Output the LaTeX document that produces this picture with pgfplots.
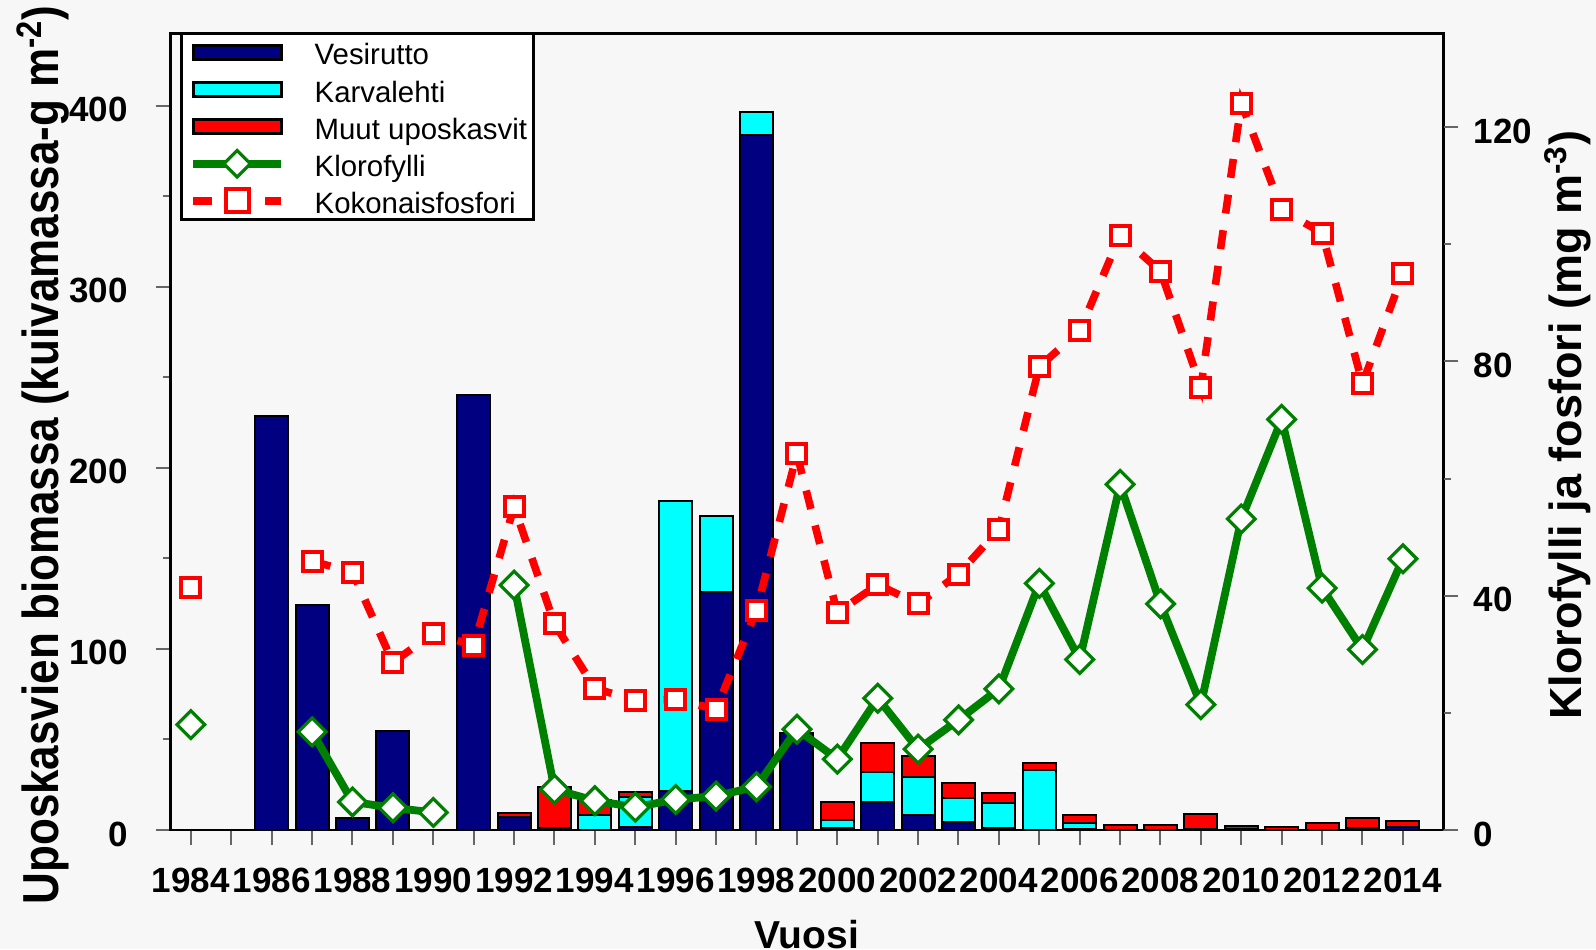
\documentclass[border=0pt]{standalone}
\usepackage{fontspec}
\setmainfont{Liberation Sans}
\usepackage{pgfplots}
\usepackage{pgfplotstable}
\pgfplotsset{compat=1.18}
\definecolor{bg}{RGB}{247,247,247}
\definecolor{navyb}{RGB}{0,0,128}
\definecolor{cyanb}{RGB}{0,255,255}
\definecolor{redb}{RGB}{255,0,0}
\definecolor{greenl}{RGB}{0,128,0}

\pgfplotstableread{
year V K M
1984 0 0 0
1985 0 0 0
1986 228.6 0 0
1987 124.5 0 0
1988 6.4 0 0
1989 54.8 0 0
1990 0 0 0
1991 240.4 0 0
1992 7.0 0 2.5
1993 0 1 23
1994 0 8.3 8
1995 1.7 16.3 3.2
1996 21.7 160.2 0
1997 131.3 42.2 0
1998 383.8 12.9 0
1999 53.5 0 0
2000 1 4.5 10
2001 15.3 16.9 15.9
2002 8.3 21.1 11.3
2003 4.4 13.1 8.3
2004 1.3 13.4 5.7
2005 0 33 4.2
2006 0.5 3.2 4.6
2007 0 0 2.8
2008 0 0 2.8
2009 0.5 0 8.3
2010 0.8 0 1.4
2011 0 0 1.7
2012 0 0 3.7
2013 1.1 0 5.3
2014 1.5 0 3.5
}\biomass

\pgfplotstableread{
year chl tp
1984 18.0 41.4
1985 nan nan
1986 nan nan
1987 16.75 45.9
1988 4.8 44.0
1989 3.8 28.6
1990 3.0 33.6
1991 nan 31.5
1992 41.8 55.2
1993 6.95 35.2
1994 5.0 24.2
1995 3.9 22.1
1996 5.2 22.3
1997 5.8 20.6
1998 7.4 37.5
1999 17.2 64.2
2000 12.1 37.1
2001 22.5 41.9
2002 13.8 38.6
2003 18.8 43.7
2004 24.1 51.3
2005 42.1 79.1
2006 29.1 85.2
2007 59.0 101.5
2008 38.6 95.4
2009 21.4 75.6
2010 53.1 124.1
2011 70.1 105.9
2012 41.3 101.9
2013 30.8 76.2
2014 46.3 95.0
}\lines

\begin{document}
\begin{tikzpicture}
\fill[bg] (-85.35pt,-59.5pt) rectangle (712.65pt,415pt);
\begin{axis}[
  at={(0pt,0pt)}, anchor=south west, scale only axis,
  width=636.3pt, height=398.35pt,
  xmin=1983.5, xmax=2015, ymin=0, ymax=440,
  ybar stacked, bar width=0.82,
  axis line style={black, line width=1.2pt},
  tick align=outside, tick pos=left,
  xtick={1984,...,2014},
  xticklabels={1984,,1986,,1988,,1990,,1992,,1994,,1996,,1998,,2000,,2002,,2004,,2006,,2008,,2010,,2012,,2014},
  ytick={0,100,200,300,400}, minor ytick={50,150,250,350},
  major tick length=7.5pt, minor tick length=4pt,
  tick style={black!60, line width=1pt},
  ticklabel style={font=\fontsize{17.5}{17.5}\selectfont\bfseries},
  /pgf/number format/assume math mode=true,
  xticklabel style={anchor=base, inner sep=0pt, yshift=-23.85pt},
  yticklabel style={anchor=east, inner sep=0pt, xshift=-13.7pt, yshift=-2pt},
  xlabel={Vuosi},
  ylabel={\scalebox{1}[1.15]{Uposkasvien biomassa (kuivamassa-g m\textsuperscript{-2})}},
  every axis x label/.style={at={(axis description cs:0.4997,-0.149)}, anchor=base, font=\fontsize{19.5}{19.5}\selectfont\bfseries},
  every axis y label/.style={at={(axis description cs:-0.1003,0.4707)}, rotate=90, anchor=center, font=\fontsize{22}{22}\selectfont\bfseries},
]
\addplot[fill=navyb, draw=black, line width=1pt] table[x=year, y=V] {\biomass};
\addplot[fill=cyanb, draw=black, line width=1pt] table[x=year, y=K] {\biomass};
\addplot[fill=redb, draw=black, line width=1pt] table[x=year, y=M] {\biomass};
\end{axis}
\begin{axis}[
  at={(0pt,0pt)}, anchor=south west, scale only axis,
  width=636.3pt, height=398.35pt,
  xmin=1983.5, xmax=2015, ymin=0, ymax=136,
  axis x line=none, axis y line*=right,
  axis line style={black, line width=0.8pt},
  tick align=outside,
  ytick={0,40,80,120}, minor ytick={20,60,100},
  major tick length=7.5pt, minor tick length=4pt,
  tick style={black!60, line width=1pt},
  ticklabel style={font=\fontsize{17.5}{17.5}\selectfont\bfseries},
  /pgf/number format/assume math mode=true,
  yticklabel style={anchor=west, inner sep=0pt, xshift=7.6pt, yshift=-2pt},
  ylabel={Klorofylli ja fosfori (mg m\textsuperscript{-3})},
  every axis y label/.style={at={(axis description cs:1.098,0.508)}, rotate=90, anchor=center, font=\fontsize{22.5}{22.5}\selectfont\bfseries},
  unbounded coords=jump,
  legend style={at={(axis description cs:0.0083,1)}, anchor=north west,
    draw=black, line width=1.5pt, fill=white, outer sep=0pt,
    inner xsep=3.2pt, inner ysep=1.5pt, row sep=2.75pt, column sep=14.8pt,
    font=\fontsize{14.7}{14.7}\selectfont,
    nodes={inner sep=0pt, text height=14.35pt, text depth=1.5pt},
    cells={anchor=west}},
]
\addlegendimage{legend image code/.code={\path[draw=none, fill=none] (0pt,0pt) -- (0.01pt,0pt);
  \draw[fill=navyb, draw=black, line width=1.5pt, solid] (2.75pt,-3.5pt) rectangle (46.75pt,3.5pt);}}
\addlegendentry{Vesirutto}
\addlegendimage{legend image code/.code={\path[draw=none, fill=none] (0pt,0pt) -- (0.01pt,0pt);
  \draw[fill=cyanb, draw=black, line width=1.5pt, solid] (2.75pt,-3.5pt) rectangle (46.75pt,3.5pt);}}
\addlegendentry{Karvalehti}
\addlegendimage{legend image code/.code={\path[draw=none, fill=none] (0pt,0pt) -- (0.01pt,0pt);
  \draw[fill=redb, draw=black, line width=1.5pt, solid] (2.75pt,-3.5pt) rectangle (46.75pt,3.5pt);}}
\addlegendentry{Muut uposkasvit}
\addplot[greenl, line width=3.9pt, mark=square*, mark size=4.9pt,
  mark options={rotate=45, fill=white, draw=greenl, line width=1.6pt, solid},
  legend image code/.code={\path[draw=none, fill=none] (0pt,0pt) -- (0.01pt,0pt);
  \draw[greenl, line width=3.9pt, solid] (2.75pt,0pt) -- (46.75pt,0pt);
  \draw[greenl, line width=1.6pt, fill=white, solid] (24.75pt,6.6pt) -- (31.35pt,0pt) -- (24.75pt,-6.6pt) -- (18.15pt,0pt) -- cycle;}]
  table[x=year, y=chl] {\lines};
\addlegendentry{Klorofylli}
\addplot[redb, line width=3.8pt, dash pattern=on 9.5pt off 8.5pt, mark=square*, mark size=4.75pt,
  mark options={fill=white, draw=redb, line width=2pt, solid},
  legend image code/.code={\path[draw=none, fill=none] (0pt,0pt) -- (0.01pt,0pt);
  \draw[redb, line width=3.8pt, dash pattern=on 9.5pt off 8.5pt] (2.75pt,0pt) -- (46.75pt,0pt);
  \draw[redb, line width=2pt, fill=white, solid] (19pt,-5.75pt) rectangle (30.5pt,5.75pt);}]
  table[x=year, y=tp] {\lines};
\addlegendentry{Kokonaisfosfori}
\end{axis}
\pgfresetboundingbox
\useasboundingbox (-85.35pt,-59.5pt) rectangle (712.65pt,415pt);
\end{tikzpicture}
\end{document}
